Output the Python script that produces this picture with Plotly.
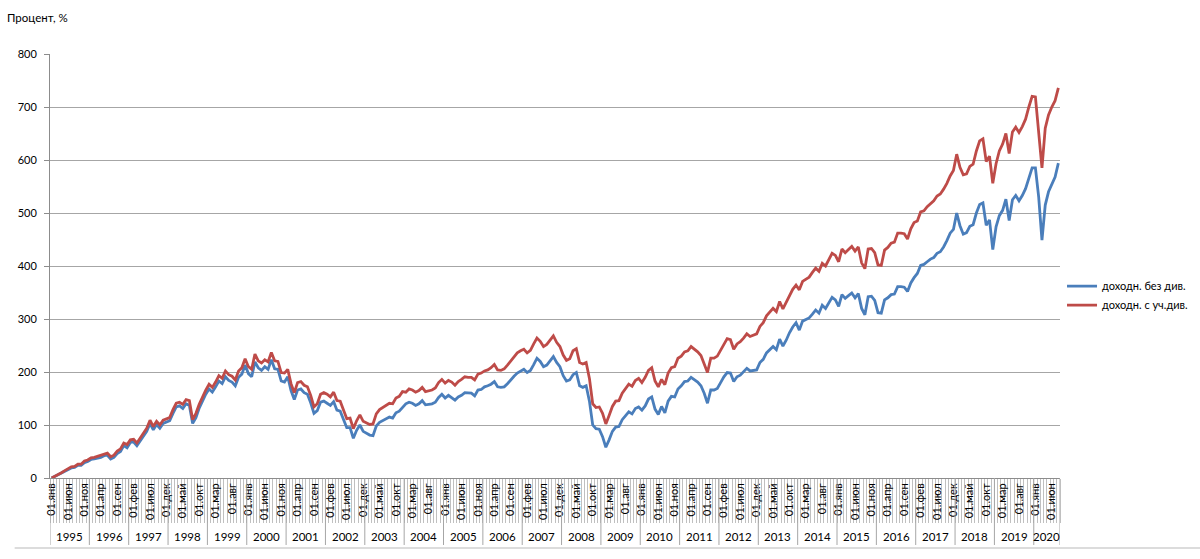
import plotly.graph_objects as go

month_abbr = ["янв", "фев", "мар", "апр", "май", "июн", "июл", "авг", "сен", "окт", "ноя", "дек"]
start_year = 1995
series_names = ["доходн. без див.", "доходн. с уч.див."]
y_title = "Процент, %"

# monthly values, Jan 1995 .. Aug 2020 (percent)
bez_div = [
    0, 3, 6, 9, 13, 16, 19, 20, 24, 24, 29, 31,                 # 1995
    35, 36, 37, 39, 42, 43, 36, 39, 46, 50, 61, 57,             # 1996
    67, 68, 61, 70, 80, 88, 103, 91, 101, 94, 103, 106,         # 1997
    108, 122, 134, 136, 131, 140, 137, 103, 114, 132, 146, 158, # 1998
    168, 162, 172, 183, 178, 191, 184, 181, 174, 190, 196, 213, # 1999
    197, 191, 219, 208, 203, 210, 205, 223, 206, 205, 183, 181, # 2000
    191, 165, 148, 166, 168, 161, 158, 142, 122, 127, 143, 145, # 2001
    141, 137, 144, 128, 126, 110, 95, 95, 75, 90, 100, 88,      # 2002
    84, 81, 80, 98, 105, 108, 111, 115, 113, 123, 126, 134,     # 2003
    140, 143, 141, 137, 140, 146, 138, 139, 140, 143, 152, 158, # 2004
    151, 156, 152, 147, 153, 156, 161, 160, 160, 155, 166, 167, # 2005
    172, 174, 177, 182, 172, 171, 172, 178, 186, 192, 198, 202, # 2006
    205, 199, 203, 214, 226, 220, 210, 213, 221, 229, 218, 210, # 2007
    193, 183, 185, 195, 199, 174, 171, 174, 145, 100, 93, 92,   # 2008
    78, 58, 72, 88, 96, 97, 110, 118, 125, 121, 131, 134,       # 2009
    128, 136, 149, 153, 130, 120, 135, 123, 145, 154, 153, 168, # 2010
    174, 182, 183, 190, 186, 181, 174, 160, 141, 166, 166, 169, # 2011
    180, 191, 199, 198, 182, 191, 194, 200, 207, 202, 203, 204, # 2012
    218, 224, 236, 242, 248, 242, 262, 249, 260, 274, 285, 293, # 2013
    279, 296, 299, 302, 309, 317, 311, 326, 320, 330, 341, 336, # 2014
    324, 346, 339, 344, 349, 340, 348, 320, 308, 342, 343, 335, # 2015
    312, 311, 336, 340, 346, 347, 361, 361, 360, 352, 368, 378, # 2016
    386, 401, 403, 408, 413, 416, 424, 427, 436, 448, 462, 469, # 2017
    500, 476, 460, 463, 475, 478, 500, 516, 519, 477, 487, 431, # 2018
    474, 495, 505, 526, 486, 525, 533, 523, 533, 546, 568, 585, # 2019
    585, 530, 449, 515, 540, 555, 568, 594,                     # 2020
]

s_uch_div = [
    0, 3, 7, 10, 14, 17, 21, 22, 26, 26, 32, 34,                # 1995
    38, 39, 41, 43, 46, 47, 40, 43, 51, 55, 66, 63,             # 1996
    72, 73, 66, 76, 86, 94, 109, 97, 107, 100, 109, 112,        # 1997
    114, 129, 141, 143, 139, 148, 146, 110, 122, 139, 153, 166, # 1998
    177, 171, 181, 193, 188, 202, 195, 192, 185, 202, 208, 225, # 1999
    210, 205, 234, 221, 217, 223, 219, 237, 221, 220, 199, 198, # 2000
    205, 178, 161, 180, 182, 175, 172, 156, 134, 140, 158, 161, # 2001
    158, 153, 162, 146, 145, 128, 112, 113, 93, 108, 119, 107,  # 2002
    104, 101, 102, 121, 129, 133, 137, 141, 140, 151, 154, 163, # 2003
    162, 168, 166, 162, 165, 171, 163, 165, 166, 170, 180, 186, # 2004
    179, 184, 181, 175, 182, 186, 191, 190, 190, 185, 196, 198, # 2005
    202, 204, 208, 214, 204, 203, 206, 213, 221, 229, 236, 240, # 2006
    243, 236, 241, 253, 264, 258, 248, 252, 260, 268, 256, 248, # 2007
    232, 222, 225, 240, 244, 218, 215, 218, 188, 140, 133, 134, # 2008
    122, 102, 118, 135, 145, 146, 160, 169, 177, 173, 184, 188, # 2009
    180, 190, 203, 208, 183, 172, 186, 176, 198, 208, 210, 226, # 2010
    230, 238, 240, 248, 243, 238, 231, 216, 199, 226, 226, 230, # 2011
    241, 252, 263, 261, 243, 253, 257, 264, 272, 267, 269, 272, # 2012
    286, 293, 306, 314, 320, 314, 333, 319, 331, 345, 356, 364, # 2013
    355, 371, 375, 379, 388, 396, 390, 405, 400, 412, 424, 420, # 2014
    408, 432, 425, 431, 437, 428, 436, 406, 395, 432, 433, 425, # 2015
    402, 401, 430, 435, 443, 445, 462, 462, 461, 451, 470, 482, # 2016
    485, 502, 504, 512, 518, 523, 532, 536, 545, 556, 570, 580, # 2017
    611, 586, 572, 574, 588, 592, 617, 636, 640, 597, 607, 556, # 2018
    593, 617, 630, 650, 612, 653, 662, 652, 663, 677, 700, 720, # 2019
    719, 655, 585, 660, 685, 700, 712, 736,                     # 2020
]

n = len(bez_div)
x = list(range(n))
cat_year = [start_year + i // 12 for i in x]
cat_month = [month_abbr[i % 12] for i in x]
tickvals = x[::5]
ticktext = ["01." + cat_month[i] for i in tickvals]

FONT = "Lato, 'Liberation Sans', Arial, sans-serif"
GRAY = "#8C8C8C"

fig = go.Figure()
fig.add_trace(go.Scatter(x=x, y=bez_div, mode="lines", name=series_names[0],
                         line=dict(color="#4A7EBB", width=2.8)))
fig.add_trace(go.Scatter(x=x, y=s_uch_div, mode="lines", name=series_names[1],
                         line=dict(color="#BE4B48", width=2.8)))

# year groups (second level of category axis)
years = sorted(set(cat_year))
shapes = []
annotations = []
BOT = -0.158   # bottom of year separators (paper)
for yr in years:
    idx = [i for i in x if cat_year[i] == yr]
    first, last = idx[0], idx[-1]
    shapes.append(dict(type="line", xref="x", yref="paper", x0=first - 0.5, x1=first - 0.5,
                       y0=0, y1=BOT, line=dict(color="#A6A6A6", width=1)))
    annotations.append(dict(x=(first + last) / 2, y=-0.139, xref="x", yref="paper",
                            text=str(yr), showarrow=False, xanchor="center", yanchor="middle",
                            font=dict(family=FONT, size=11.5, color="#000000")))
shapes.append(dict(type="line", xref="x", yref="paper", x0=n - 0.5, x1=n - 0.5,
                   y0=0, y1=BOT, line=dict(color="#A6A6A6", width=1)))
# chart frame bottom line
shapes.append(dict(type="line", xref="paper", yref="paper", x0=-0.035, x1=1.14,
                   y0=-0.165, y1=-0.165, line=dict(color="#D0D0D0", width=1.5)))

annotations.append(dict(x=-0.045, y=1.085, xref="paper", yref="paper", text=y_title,
                        showarrow=False, xanchor="left", yanchor="middle",
                        font=dict(family=FONT, size=11.5, color="#000000")))

fig.update_layout(
    width=1200, height=559,
    margin=dict(l=50, r=140, t=54, b=81, autoexpand=False),
    paper_bgcolor="white", plot_bgcolor="white",
    font=dict(family=FONT, size=11, color="#000000"),
    showlegend=True,
    legend=dict(x=1.002, y=0.43, xanchor="left", yanchor="middle",
                font=dict(family=FONT, size=11), itemwidth=30,
                bgcolor="rgba(0,0,0,0)", tracegroupgap=2),
    shapes=shapes,
    annotations=annotations,
)
fig.update_xaxes(
    range=[-0.5, n - 0.5], showgrid=False, zeroline=False, automargin=False,
    showline=True, linecolor=GRAY, linewidth=1,
    tickmode="array", tickvals=tickvals, ticktext=ticktext, tickangle=-90,
    ticks="", tickfont=dict(family=FONT, size=11, color="#000000"),
    minor=dict(tickmode="linear", tick0=-0.5, dtick=1, ticks="outside",
               ticklen=44, tickcolor="#C0C0C0", tickwidth=1, showgrid=False),
)
fig.update_yaxes(
    range=[0, 800], dtick=100, tick0=0, showgrid=True, gridcolor="#A6A6A6", gridwidth=1,
    zeroline=False, showline=True, linecolor=GRAY, linewidth=1, automargin=False,
    ticks="outside", ticklen=5, tickcolor=GRAY, ticklabelstandoff=5,
    tickfont=dict(family=FONT, size=11, color="#000000"),
)

fig.write_html("out.html")
